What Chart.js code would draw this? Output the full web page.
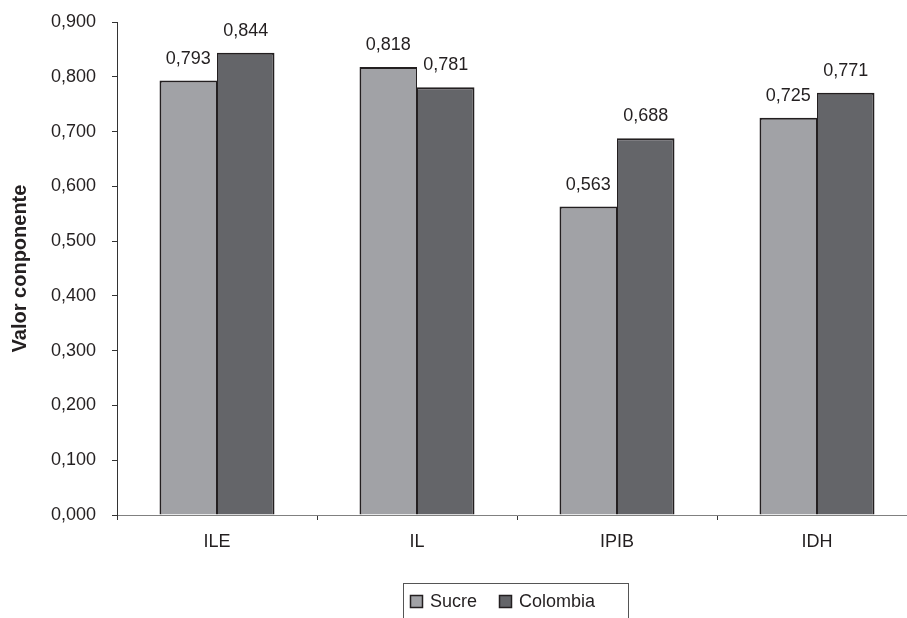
<!DOCTYPE html>
<html>
<head>
<meta charset="utf-8">
<script src="https://cdn.jsdelivr.net/npm/chart.js@4"></script>
<style>
html,body{margin:0;padding:0;background:#fff;overflow:hidden;width:907px;height:618px;}
canvas{display:block;}
</style>
</head>
<body>
<canvas id="c" width="917" height="618"></canvas>
<script>
const categories = ['ILE', 'IL', 'IPIB', 'IDH'];
const sucreValues = [0.793, 0.818, 0.563, 0.725];
const colombiaValues = [0.844, 0.781, 0.688, 0.771];
const seriesNames = ['Sucre', 'Colombia'];
const yTickValues = [0, 0.1, 0.2, 0.3, 0.4, 0.5, 0.6, 0.7, 0.8, 0.9];
const yTitle = 'Valor conponente';

const FONT = "'Liberation Sans', Arial, sans-serif";
const fmt = v => v.toFixed(3).replace('.', ',');

const valueLabels = {
  id: 'valueLabels',
  afterDatasetsDraw(chart) {
    const ctx = chart.ctx;
    ctx.save();
    ctx.font = '18px ' + FONT;
    ctx.fillStyle = '#231f20';
    ctx.textAlign = 'center';
    ctx.textBaseline = 'alphabetic';
    chart.data.datasets.forEach((ds, i) => {
      chart.getDatasetMeta(i).data.forEach((bar, j) => {
        ctx.fillText(fmt(ds.data[j]), bar.x, bar.y - 17);
      });
    });
    ctx.restore();
  }
};

const boxLegend = {
  id: 'boxLegend',
  afterDraw(chart) {
    const ctx = chart.ctx;
    ctx.save();
    ctx.strokeStyle = '#555';
    ctx.lineWidth = 1;
    ctx.strokeRect(403.5, 583.5, 225, 50);
    ctx.font = '18px ' + FONT;
    ctx.textBaseline = 'middle';
    ctx.textAlign = 'left';
    const xs = [410, 499];
    chart.data.datasets.forEach((ds, i) => {
      ctx.fillStyle = ds.backgroundColor;
      ctx.fillRect(xs[i], 595, 12, 12);
      ctx.strokeStyle = '#231f20';
      ctx.lineWidth = 1.5;
      ctx.strokeRect(xs[i] + 0.5, 595.5, 12, 12);
      ctx.fillStyle = '#231f20';
      ctx.fillText(ds.label, xs[i] + 20, 602);
    });
    ctx.restore();
  }
};

new Chart(document.getElementById('c'), {
  type: 'bar',
  data: {
    labels: categories,
    datasets: [
      { label: seriesNames[0], data: sucreValues, backgroundColor: '#a1a2a6', borderColor: '#231f20',
        borderWidth: { left: 2, right: 1, top: 2, bottom: 0 }, borderSkipped: false },
      { label: seriesNames[1], data: colombiaValues, backgroundColor: '#646569', borderColor: '#231f20',
        borderWidth: { left: 1, right: 2, top: 2, bottom: 0 }, borderSkipped: false }
    ]
  },
  options: {
    responsive: false,
    animation: false,
    layout: { padding: { left: 0, right: 0, top: 22, bottom: 0 } },
    datasets: { bar: { categoryPercentage: 0.575, barPercentage: 1.0 } },
    plugins: { legend: { display: false }, tooltip: { enabled: false } },
    scales: {
      x: {
        afterFit(s) { s.height = 103; s.paddingLeft = 0; s.paddingRight = 0; },
        border: { display: true, color: '#808080', width: 1 },
        grid: { display: true, drawOnChartArea: false, drawTicks: true, tickLength: 5, color: '#333', offset: true },
        ticks: { color: '#231f20', font: { family: FONT, size: 18 }, padding: 11 }
      },
      y: {
        min: 0, max: 0.9,
        afterFit(s) { s.width = 117; s.paddingTop = 0; s.paddingBottom = 0; },
        afterBuildTicks(s) { s.ticks = yTickValues.map(v => ({ value: v })); },
        border: { display: true, color: '#333', width: 1 },
        grid: { display: true, drawOnChartArea: false, drawTicks: true, tickLength: 5, color: '#333' },
        ticks: { color: '#231f20', font: { family: FONT, size: 18 }, padding: 16, callback: v => fmt(v) },
        title: { display: true, text: yTitle, color: '#231f20', font: { family: FONT, size: 20, weight: 'bold' }, padding: { top: 8, bottom: 0 } }
      }
    }
  },
  plugins: [valueLabels, boxLegend]
});
</script>
</body>
</html>
